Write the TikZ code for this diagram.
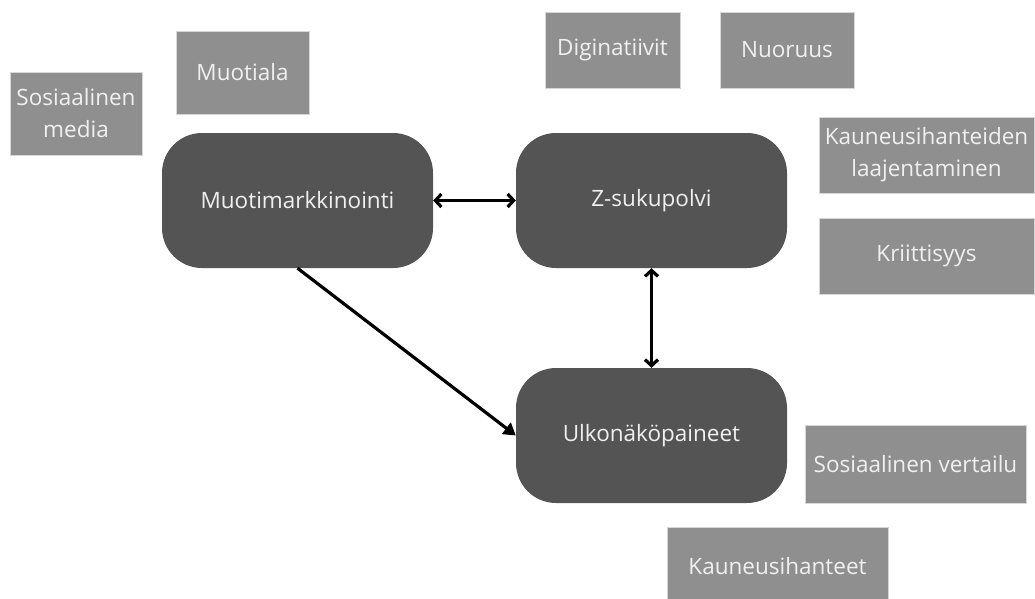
\documentclass[tikz,border=0pt]{standalone}
\usepackage{xcolor}
\usepackage{fontspec}
\setmainfont{Open Sans}
\usepackage{tikz}
\usetikzlibrary{arrows.meta,positioning}
\definecolor{darkbox}{RGB}{84,84,84}
\definecolor{graybox}{RGB}{143,143,143}
\definecolor{grayline}{RGB}{215,215,215}
\definecolor{boxtext}{RGB}{240,240,240}

\begin{document}
\begin{tikzpicture}[
    x=1pt, y=-1pt,
    font=\fontsize{22.5}{32}\selectfont,
    mainbox/.style={rectangle, fill=darkbox, text=boxtext, minimum width=271pt, minimum height=135pt, rounded corners=40pt, text centered, inner sep=0pt},
    tagbox/.style={rectangle, fill=graybox, draw=grayline, line width=0.6pt, text=boxtext, align=center, inner sep=0pt},
    arrow/.style={{Straight Barb[length=6pt,width=13pt]}-{Straight Barb[length=6pt,width=13pt]}, line width=3.2pt, black},
    onearrow/.style={-{Triangle[length=12pt,width=14pt]}, line width=3.2pt, black}
]
    \useasboundingbox (0,0) rectangle (1035,599);

    % Main boxes
    \node[mainbox] (muoti) at (297.5,200.5) {Muotimarkkinointi};
    \node[mainbox] (zsuku) at (651.5,200.5) {Z-sukupolvi};
    \node[mainbox] (ulko) at (651.5,435.5) {Ulkonäköpaineet};

    % Tags
    \node[tagbox, minimum width=132pt, minimum height=83pt] (some) at (76,113.5) {Sosiaalinen\\media};
    \node[tagbox, minimum width=133pt, minimum height=83pt] (muotiala) at (242.5,72.5) {Muotiala};
    \node[tagbox, minimum width=135pt, minimum height=76pt] (digi) at (612.5,50) {Diginatiivit};
    \node[tagbox, minimum width=134pt, minimum height=76pt] (nuoruus) at (787,50) {Nuoruus};
    \node[tagbox, minimum width=215pt, minimum height=76pt] (laaj) at (926.5,155) {Kauneusihanteiden\\laajentaminen};
    \node[tagbox, minimum width=215pt, minimum height=76pt] (kriit) at (926.5,256) {Kriittisyys};
    \node[tagbox, minimum width=221pt, minimum height=78pt] (vertailu) at (915.5,464) {Sosiaalinen vertailu};
    \node[tagbox, minimum width=221pt, minimum height=78pt] (ihanteet) at (777.5,566) {Kauneusihanteet};

    % Arrows
    \draw[arrow] (muoti.east) -- (zsuku.west);
    \draw[arrow] (zsuku.south) -- (ulko.north);
    \draw[onearrow] (muoti.south) -- (ulko.west);
\end{tikzpicture}
\end{document}
